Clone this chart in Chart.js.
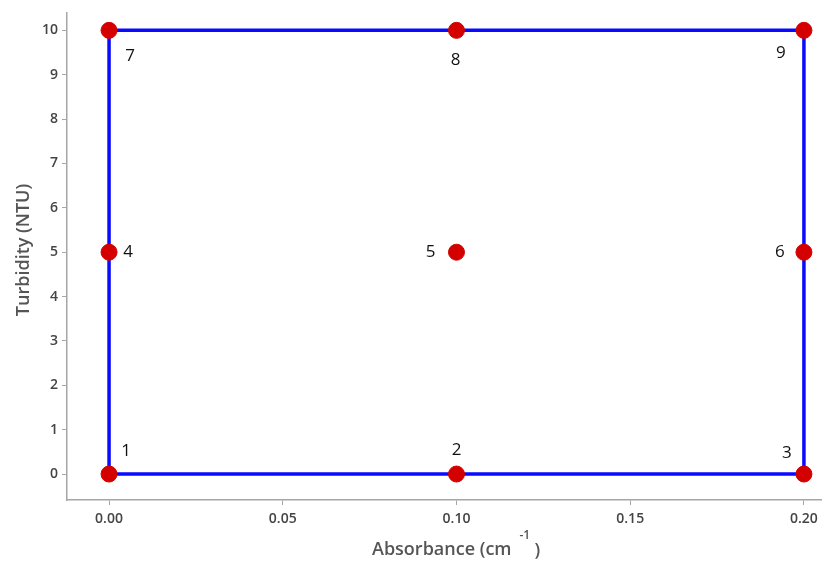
<!DOCTYPE html>
<html>
<head>
<meta charset="utf-8">
<script src="https://cdn.jsdelivr.net/npm/chart.js@4"></script>
<style>
  html, body { margin: 0; padding: 0; background: #fff; overflow: hidden; }
  #wrap { width: 822px; height: 562px; }
  canvas { display: block; }
</style>
</head>
<body>
<div id="wrap"><canvas id="chart" width="822" height="562"></canvas></div>
<script>
// design points: absorbance (cm^-1) vs turbidity (NTU)
const RUN_LABELS = ["1", "2", "3", "4", "5", "6", "7", "8", "9"];
const ABSORBANCE = [0.00, 0.10, 0.20, 0.00, 0.10, 0.20, 0.00, 0.10, 0.20];
const TURBIDITY = [0, 0, 0, 5, 5, 5, 10, 10, 10];

// design-space boundary traced in blue
const FRAME_X = [0.00, 0.00, 0.20, 0.20, 0.00];
const FRAME_Y = [10, 0, 0, 10, 10];

const X_TICKS = [0.00, 0.05, 0.10, 0.15, 0.20];
const Y_TICKS = [0, 1, 2, 3, 4, 5, 6, 7, 8, 9, 10];

const FONT = "'Open Sans', 'Noto Sans', sans-serif";
const AXIS_GREY = "#a6a6a6";

// where each run number sits relative to its dot (px)
const LABEL_SHIFT = {
  "1": [17, -23], "2": [0, -24], "3": [-17, -21],
  "4": [19, 0], "5": [-26, 0], "6": [-24, 0],
  "7": [21, 26], "8": [-1, 30], "9": [-23, 23],
};

const runLabels = {
  id: "runLabels",
  afterDatasetsDraw(chart) {
    const { ctx, scales: { x, y } } = chart;
    ctx.save();
    ctx.font = `17px ${FONT}`;
    ctx.fillStyle = "#111";
    ctx.textAlign = "center";
    ctx.textBaseline = "middle";
    RUN_LABELS.forEach((lab, i) => {
      const [dx, dy] = LABEL_SHIFT[lab];
      ctx.fillText(lab, x.getPixelForValue(ABSORBANCE[i]) + dx, y.getPixelForValue(TURBIDITY[i]) + dy);
    });
    ctx.restore();
  },
};

// x tick labels drawn by hand so the last one doesn't shrink the plot area
const xTickLabels = {
  id: "xTickLabels",
  afterDraw(chart) {
    const { ctx, scales: { x } } = chart;
    ctx.save();
    ctx.font = `600 14px ${FONT}`;
    ctx.fillStyle = "#444";
    ctx.textAlign = "center";
    ctx.textBaseline = "middle";
    X_TICKS.forEach((v) => ctx.fillText(v.toFixed(2), x.getPixelForValue(v), x.top + 19));
    ctx.restore();
  },
};

// axis titles, incl. the raised -1 on cm
const axisTitles = {
  id: "axisTitles",
  afterDraw(chart) {
    const { ctx } = chart;
    ctx.save();
    ctx.fillStyle = "#555";
    ctx.textBaseline = "alphabetic";
    ctx.font = `600 18px ${FONT}`;
    const a = "Absorbance (cm";
    const wa = ctx.measureText(a).width;
    const sx = 372;
    ctx.textAlign = "left";
    ctx.fillText(a, sx, 555);
    ctx.font = `600 12px ${FONT}`;
    ctx.fillText("-1", sx + wa + 8, 539);
    ctx.font = `600 18px ${FONT}`;
    ctx.fillText(")", sx + wa + 23, 556);

    ctx.translate(29, 250);
    ctx.rotate(-Math.PI / 2);
    ctx.textAlign = "center";
    ctx.fillText("Turbidity (NTU)", 0, 0);
    ctx.restore();
  },
};

new Chart(document.getElementById("chart"), {
  type: "scatter",
  data: {
    datasets: [
      {
        label: "runs",
        data: ABSORBANCE.map((v, i) => ({ x: v, y: TURBIDITY[i] })),
        backgroundColor: "#d40000",
        borderColor: "#d40000",
        pointRadius: 8,
        pointHoverRadius: 8,
        order: 1,
      },
      {
        label: "frame",
        type: "line",
        data: FRAME_X.map((v, i) => ({ x: v, y: FRAME_Y[i] })),
        borderColor: "#0a0aff",
        borderWidth: 3.5,
        pointRadius: 0,
        fill: false,
        tension: 0,
        order: 2,
      },
    ],
  },
  options: {
    responsive: false,
    animation: false,
    layout: { autoPadding: false, padding: { top: 12, right: 0, left: 0, bottom: 0 } },
    plugins: { legend: { display: false }, tooltip: { enabled: false } },
    scales: {
      x: {
        type: "linear",
        min: -0.0121,
        max: 0.2052,
        afterBuildTicks: (s) => { s.ticks = X_TICKS.map((v) => ({ value: v })); },
        afterFit: (s) => { s.height = 62; },
        ticks: { display: false },
        grid: { drawOnChartArea: false, drawTicks: true, tickLength: 5, color: AXIS_GREY },
        border: { color: AXIS_GREY, width: 1.5 },
      },
      y: {
        type: "linear",
        min: -0.585,
        max: 10.405,
        afterBuildTicks: (s) => { s.ticks = Y_TICKS.map((v) => ({ value: v })); },
        afterFit: (s) => { s.width = 67; },
        ticks: {
          callback: (v) => String(v),
          color: "#444",
          font: { family: FONT, size: 14, weight: "600" },
          padding: 4,
        },
        grid: { drawOnChartArea: false, drawTicks: true, tickLength: 5, color: AXIS_GREY },
        border: { color: AXIS_GREY, width: 1.5 },
      },
    },
  },
  plugins: [runLabels, xTickLabels, axisTitles],
});
</script>
</body>
</html>
